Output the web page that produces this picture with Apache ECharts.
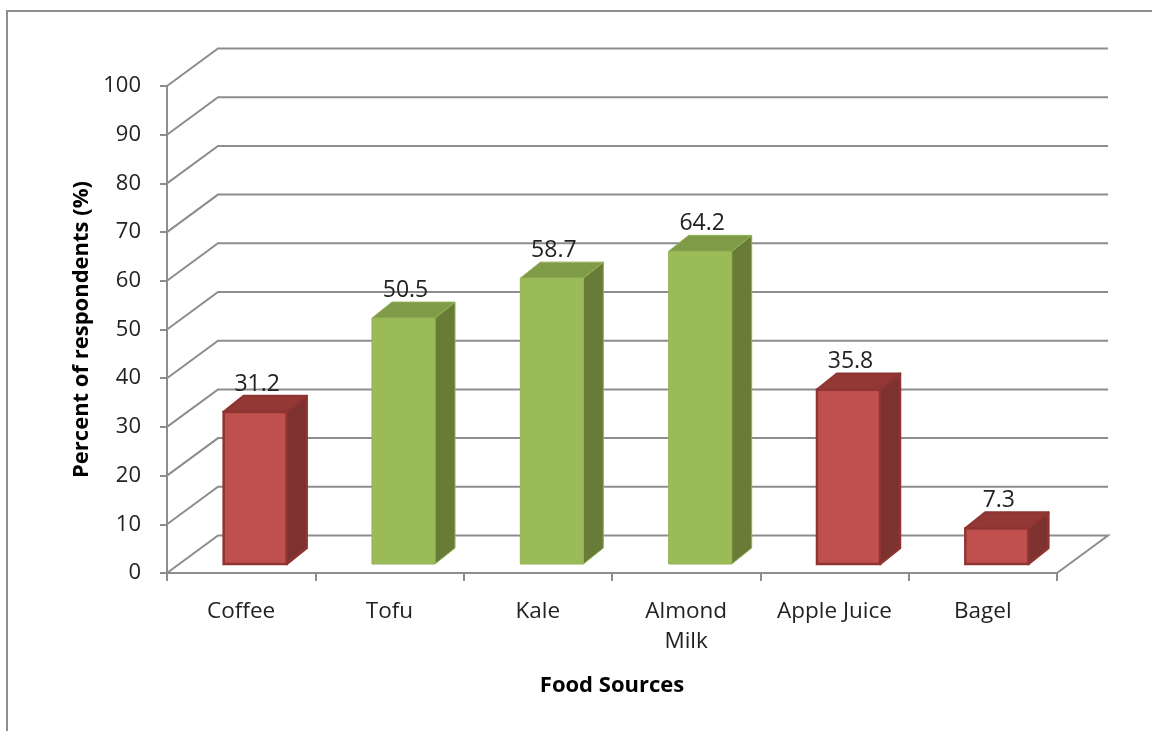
<!DOCTYPE html>
<html>
<head>
<meta charset="utf-8">
<title>Food Sources</title>
<script src="https://cdn.jsdelivr.net/npm/echarts@6/dist/echarts.min.js"></script>
<style>
  html, body { margin: 0; padding: 0; background: #fff; }
  #chart { width: 1152px; height: 731px; }
</style>
</head>
<body>
<div id="chart"></div>
<script>
// data
var categories = ['Coffee', 'Tofu', 'Kale', 'Almond\nMilk', 'Apple Juice', 'Bagel'];
var percents = [31.2, 50.5, 58.7, 64.2, 35.8, 7.3];
var greenItems = ['Tofu', 'Kale', 'Almond\nMilk'];
var yTicks = [0, 10, 20, 30, 40, 50, 60, 70, 80, 90, 100];

var FONT = '"Open Sans", "Liberation Sans", sans-serif';
var GRID_COLOR = '#8d8d8d';

// 3d look: offset of back wall and of the bars
var WALL_DX = 51, WALL_DY = -37.5;
var BAR_SHIFT_X = 14, BAR_SHIFT_Y = -9;
var BAR_DX = 20, BAR_DY = -16;

var palette = {
    red: { front: '#C0504D', side: '#7E3230', top: '#933835', border: '#8E3533' },
    green: { front: '#9BBB59', side: '#687C38', top: '#7F9B48', border: '#93B255' }
};

var chart = echarts.init(document.getElementById('chart'));

function renderWall(params, api) {
    var cs = params.coordSys;
    var x0 = cs.x, x1 = cs.x + cs.width;
    var y = api.coord([0, api.value(1)])[1];
    var pts = [[x0, y], [x0 + WALL_DX, y + WALL_DY], [x1 + WALL_DX, y + WALL_DY]];
    if (api.value(1) === 0) {
        pts.push([x1, y]);
    }
    return {
        type: 'polyline',
        shape: { points: pts },
        style: { stroke: GRID_COLOR, lineWidth: 2, fill: null }
    };
}

function renderBar(params, api) {
    var idx = api.value(0);
    var base = api.coord([idx, 0]);
    var top = api.coord([idx, api.value(1)]);
    var w = api.size([1, 0])[0] * 0.425;
    var c = greenItems.indexOf(categories[idx]) >= 0 ? palette.green : palette.red;
    var isRed = c === palette.red;

    var fx0 = base[0] - w / 2 + BAR_SHIFT_X;
    var fx1 = fx0 + w;
    var yb = base[1] + BAR_SHIFT_Y;
    var yt = top[1] + BAR_SHIFT_Y;
    var lw = isRed ? 2.5 : 1;

    return {
        type: 'group',
        children: [
            {
                type: 'polygon',
                shape: { points: [[fx1, yt], [fx1 + BAR_DX, yt + BAR_DY], [fx1 + BAR_DX, yb + BAR_DY], [fx1, yb]] },
                style: { fill: c.side, stroke: c.border, lineWidth: lw, lineJoin: 'round' }
            },
            {
                type: 'polygon',
                shape: { points: [[fx0, yt], [fx0 + BAR_DX, yt + BAR_DY], [fx1 + BAR_DX, yt + BAR_DY], [fx1, yt]] },
                style: { fill: c.top, stroke: c.border, lineWidth: lw, lineJoin: 'round' }
            },
            {
                type: 'rect',
                shape: { x: fx0, y: yt, width: w, height: yb - yt },
                style: { fill: c.front, stroke: c.border, lineWidth: lw }
            },
            {
                type: 'text',
                style: {
                    text: String(api.value(1)),
                    x: fx0 + w / 2 + 2,
                    y: yt + BAR_DY - 12,
                    align: 'center',
                    verticalAlign: 'middle',
                    fontSize: 23,
                    fontFamily: FONT,
                    fill: '#222'
                }
            }
        ]
    };
}

var option = {
    backgroundColor: '#fff',
    animation: false,
    graphic: [{
        type: 'rect',
        shape: { x: 7, y: 11, width: 1200, height: 800 },
        style: { fill: null, stroke: GRID_COLOR, lineWidth: 2 },
        silent: true
    }],
    grid: { left: 167, right: 95, top: 86, bottom: 158 },
    xAxis: {
        type: 'category',
        data: categories,
        name: 'Food Sources',
        nameLocation: 'middle',
        nameGap: 102,
        nameTextStyle: { fontFamily: FONT, fontSize: 22, fontWeight: 'bold', color: '#000' },
        axisLine: { lineStyle: { color: GRID_COLOR, width: 2 } },
        axisTick: { show: true, interval: 0, length: 8, lineStyle: { color: GRID_COLOR, width: 2 } },
        axisLabel: { interval: 0, hideOverlap: false, margin: 24, fontFamily: FONT, fontSize: 22.5, color: '#222', lineHeight: 30 },
        splitLine: { show: false }
    },
    yAxis: {
        type: 'value',
        min: 0,
        max: 100,
        interval: 10,
        name: 'Percent of respondents (%)',
        nameLocation: 'middle',
        nameGap: 73,
        nameTextStyle: { fontFamily: FONT, fontSize: 22, fontWeight: 'bold', color: '#000' },
        axisLine: { show: true, lineStyle: { color: GRID_COLOR, width: 2 } },
        axisTick: { show: true, length: 7, lineStyle: { color: GRID_COLOR, width: 2 } },
        axisLabel: { margin: 26, fontFamily: FONT, fontSize: 22, color: '#222' },
        splitLine: { show: false }
    },
    series: [
        {
            type: 'custom',
            z: 1,
            silent: true,
            renderItem: renderWall,
            encode: { x: 0, y: 1 },
            data: yTicks.map(function (v) { return [0, v]; })
        },
        {
            type: 'custom',
            z: 3,
            renderItem: renderBar,
            encode: { x: 0, y: 1 },
            data: percents.map(function (v, i) { return [i, v]; })
        }
    ]
};

chart.setOption(option);
</script>
</body>
</html>
